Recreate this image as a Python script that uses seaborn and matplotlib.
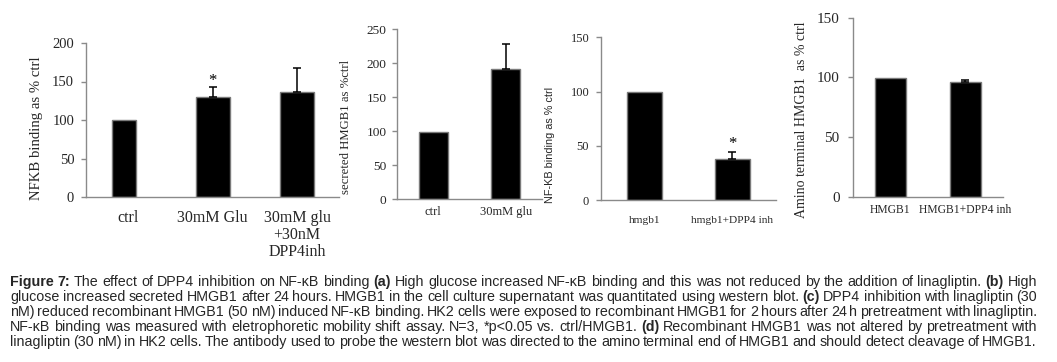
import numpy as np
import pandas as pd
import matplotlib
matplotlib.use("Agg")
import matplotlib.pyplot as plt
import seaborn as sns

W, H = 1057, 362

# ---- data ----
a_cats = ["ctrl", "30mM Glu", "30mM glu\n+30nM\nDPP4inh"]
a_vals = [100, 130, 136]
a_err = [0, 12.5, 31]

b_cats = ["ctrl", "30mM glu"]
b_vals = [99, 191]
b_err = [0, 37]

c_cats = ["hmgb1", "hmgb1+DPP4 inh"]
c_vals = [100, 38]
c_err = [0, 6]

d_cats = ["HMGB1", "HMGB1+DPP4 inh"]
d_vals = [99.5, 96]
d_err = [0, 1.5]

a_yticks = [0, 50, 100, 150, 200]
b_yticks = [0, 50, 100, 150, 200, 250]
c_yticks = [0, 50, 100, 150]
d_yticks = [0, 50, 100, 150]

caption = [
    [("Figure 7:", True), ("The effect of DPP4 inhibition on NF-κB binding", False), ("(a)", True),
     ("High glucose increased NF-κB binding and this was not reduced by the addition of linagliptin.", False),
     ("(b)", True), ("High", False)],
    [("glucose increased secreted HMGB1 after 24 hours. HMGB1 in the cell culture supernatant was quantitated using western blot.", False),
     ("(c)", True), ("DPP4 inhibition with linagliptin (30", False)],
    [("nM) reduced recombinant HMGB1 (50 nM) induced NF-κB binding. HK2 cells were exposed to recombinant HMGB1 for 2 hours after 24 h pretreatment with linagliptin.", False)],
    [("NF-κB binding was measured with eletrophoretic mobility shift assay. N=3, *p<0.05 vs. ctrl/HMGB1.", False),
     ("(d)", True), ("Recombinant HMGB1 was not altered by pretreatment with", False)],
    [("linagliptin (30 nM) in HK2 cells. The antibody used to probe the western blot was directed to the amino terminal end of HMGB1 and should detect cleavage of HMGB1.", False)],
]

sns.set_theme(style="white")
SERIF = ["Liberation Serif", "DejaVu Serif"]
SANS = ["Liberation Sans", "DejaVu Sans"]
plt.rcParams["font.family"] = SERIF

GRAY = "#8a8a8a"

fig = plt.figure(figsize=(W / 100, H / 100), dpi=100)
fig.patch.set_facecolor("white")


def make_ax(l, t, r, b):
    return fig.add_axes([l / W, 1 - b / H, (r - l) / W, (b - t) / H])


def panel(ax, cats, vals, errs, yticks, xlim, width, ytick_fs, xtick_fs, xpad, ypad):
    df = pd.DataFrame({"cat": cats, "val": vals})
    sns.barplot(data=df, x="cat", y="val", color="black", saturation=1, width=width,
                edgecolor="#7a7a7a", linewidth=1, errorbar=None, ax=ax)
    idx = [i for i, e in enumerate(errs) if e > 0]
    if idx:
        ax.errorbar([i for i in idx], [vals[i] for i in idx],
                    yerr=[[0] * len(idx), [errs[i] for i in idx]],
                    fmt="none", ecolor="black", elinewidth=1.1, capsize=3, capthick=1.1, zorder=1)
    ax.set_xlim(*xlim)
    ax.set_ylim(yticks[0], yticks[-1])
    ax.set_yticks(yticks)
    ax.set_yticklabels([str(v) for v in yticks], fontsize=ytick_fs, family=SERIF)
    ax.set_xticks(range(len(cats)))
    ax.set_xticklabels(cats, fontsize=xtick_fs, family=SERIF, linespacing=1.12)
    ax.set_xticks(np.arange(-0.5, len(cats), 1.0), minor=True)
    ax.tick_params(axis="x", which="major", length=0, pad=xpad)
    ax.tick_params(axis="x", which="minor", length=5, width=1, color=GRAY, direction="out")
    ax.tick_params(axis="y", which="major", length=3.5, width=1, color=GRAY, direction="out", pad=ypad, left=True)
    ax.set_xlabel("")
    ax.set_ylabel("")
    sns.despine(ax=ax)
    for s in ("left", "bottom"):
        ax.spines[s].set_color(GRAY)
        ax.spines[s].set_linewidth(1)
    ax.set_facecolor("white")
    ax.grid(False)


# panel a
ax_a = make_ax(86, 43, 339.3, 197)
panel(ax_a, a_cats, a_vals, a_err, a_yticks, (-0.5, 2.5), 0.4, 10.5, 11.5, 9, 5)
p = ax_a.patches[0]
p.set_width(0.286)
p.set_x(-0.19)
ax_a.text(1, 150, "*", ha="center", va="center", fontsize=12, color="black", family=SERIF)
ax_a.set_ylabel("NFKB binding as % ctrl", fontsize=10.6, family=SERIF)
ax_a.yaxis.set_label_coords(43 / W, 1 - 128 / H, transform=fig.transFigure)

# panel b
ax_b = make_ax(397, 29, 542, 199)
panel(ax_b, b_cats, b_vals, b_err, b_yticks, (-0.49, 1.405), 0.4, 9.6, 9, 5, 4)
ax_b.set_ylabel("secreted HMGB1 as %ctrl", fontsize=9.2, family=SERIF)
ax_b.yaxis.set_label_coords(352 / W, 1 - 127 / H, transform=fig.transFigure)

# panel c
ax_c = make_ax(601, 37.3, 776, 200.3)
panel(ax_c, c_cats, c_vals, c_err, c_yticks, (-0.5, 1.5), 0.4, 9, 8.2, 11, 5)
ax_c.text(1, 52, "*", ha="center", va="center", fontsize=12, color="black", family=SERIF)
ax_c.set_ylabel("NF-KB binding as % ctrl", fontsize=7.8, family=SANS)
ax_c.yaxis.set_label_coords(555 / W, 1 - 145 / H, transform=fig.transFigure)

# panel d
ax_d = make_ax(852.7, 17.7, 1003, 196.7)
panel(ax_d, d_cats, d_vals, d_err, d_yticks, (-0.5, 1.5), 0.41, 10.9, 8.4, 5, 6)
ax_d.set_ylabel("Amino terminal HMGB1  as % ctrl", fontsize=10, family=SERIF)
ax_d.yaxis.set_label_coords(808 / W, 1 - 120 / H, transform=fig.transFigure)

# caption (justified)
renderer = fig.canvas.get_renderer()
CAP_FS = 10.3
x0, x1 = 10, 1037
base0, step = 286, 15
for li, segs in enumerate(caption):
    words = []
    for txt, bold in segs:
        for w in txt.split():
            words.append((w, bold))
    texts = []
    for w, bold in words:
        t = fig.text(0, 0, w, fontsize=CAP_FS, family=SANS,
                     fontweight="bold" if bold else "normal", va="baseline", ha="left")
        texts.append(t)
    widths = [t.get_window_extent(renderer).width for t in texts]
    gap = (x1 - x0 - sum(widths)) / max(len(words) - 1, 1)
    x = x0
    yb = base0 + li * step
    for t, wd in zip(texts, widths):
        t.set_position((x / W, 1 - yb / H))
        x += wd + gap

fig.savefig("out.png", dpi=100, facecolor="white")
